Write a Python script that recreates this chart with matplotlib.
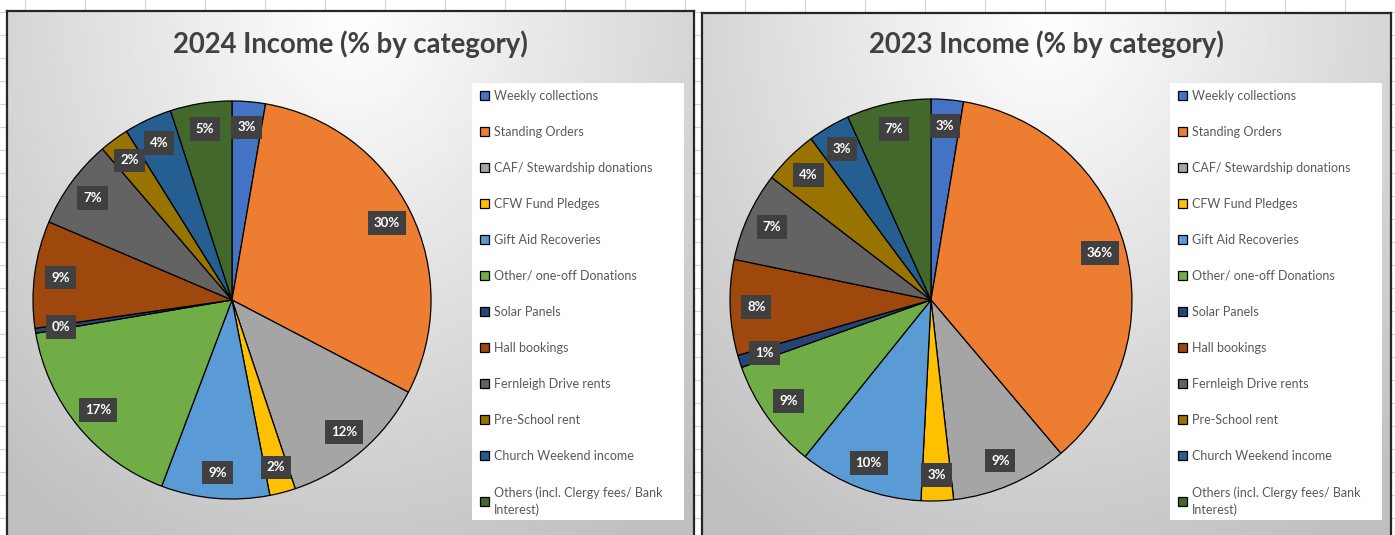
import numpy as np
import matplotlib as mpl; mpl.use('Agg')
import matplotlib.pyplot as plt
from matplotlib.patches import Rectangle

plt.rcParams.update({'font.family': ['Lato', 'DejaVu Sans']})

W, H = 1395, 535

categories = ['Weekly collections', 'Standing Orders', 'CAF/ Stewardship donations',
              'CFW Fund Pledges', 'Gift Aid Recoveries', 'Other/ one-off Donations',
              'Solar Panels', 'Hall bookings', 'Fernleigh Drive rents', 'Pre-School rent',
              'Church Weekend income', 'Others (incl. Clergy fees/ Bank\nInterest)']
colors = ['#4472C4', '#ED7D31', '#A5A5A5', '#FFC000', '#5B9BD5', '#70AD47',
          '#264478', '#9E480E', '#636363', '#997300', '#255E91', '#43682B']
# % share of income
share_2024 = [2.7, 30.0, 12.2, 2.1, 8.8, 16.6, 0.4, 8.7, 7.3, 2.4, 3.9, 5.0]
share_2023 = [2.6, 36.3, 9.4, 2.6, 10.0, 8.8, 1.0, 7.7, 7.2, 4.4, 3.4, 6.8]
titles = ['2024 Income (% by category)', '2023 Income (% by category)']

fig = plt.figure(figsize=(W/100, H/100), dpi=100)

# spreadsheet grid behind the chart objects
bg = fig.add_axes([0, 0, 1, 1], zorder=-5)
bg.set_xlim(0, W); bg.set_ylim(H, 0); bg.axis('off')
for x in range(25, W, 60):
    bg.axvline(x, color='#d4d4d4', lw=0.8)
for y in range(12, H, 23):
    bg.axhline(y, color='#d4d4d4', lw=0.8)

# gradient fill for chart areas
gx, gy = np.meshgrid(np.linspace(-1, 1, 300), np.linspace(0, 1, 200))
grad = 1 - 0.25*np.clip(np.sqrt((gx*0.85)**2 + (gy*1.1)**2)/1.3, 0, 1)

panels = [(7, 694, 11), (702, 1391, 13)]
pies = [(232, 300, 203), (931, 300, 205)]
legend_boxes = [(472, 83, 684, 520), (1170, 83, 1382, 520)]

for i, data in enumerate([share_2024, share_2023]):
    x0, x1, top = panels[i]
    pa = fig.add_axes([x0/W, 0, (x1-x0)/W, (H-top)/H], zorder=0)
    pa.imshow(grad, cmap='gray', vmin=0, vmax=1, extent=[0, 1, 0, 1], aspect='auto', origin='upper')
    pa.set_xticks([]); pa.set_yticks([])
    for s in ['top', 'left', 'right']:
        pa.spines[s].set_linewidth(1.6); pa.spines[s].set_color('#262626')
    pa.spines['bottom'].set_visible(False)
    pa.text(0.5, 1 - (44-top)/(H-top), titles[i], transform=pa.transAxes, ha='center', va='center',
            fontsize=19.8, fontweight='bold', color='#404040')

    # legend background
    lx0, ly0, lx1, ly1 = legend_boxes[i]
    fig.patches.append(Rectangle((lx0/W, 1-ly1/H), (lx1-lx0)/W, (ly1-ly0)/H, transform=fig.transFigure,
                                 facecolor='white', edgecolor='none', zorder=1))

    cx, cy, r = pies[i]
    ax = fig.add_axes([(cx-r)/W, (H-cy-r)/H, 2*r/W, 2*r/H], zorder=2)
    wedges, _, autotexts = ax.pie(data, colors=colors, startangle=90, counterclock=False, radius=1,
                                  autopct='%.0f%%', pctdistance=0.87,
                                  wedgeprops=dict(edgecolor='black', linewidth=0.9),
                                  textprops=dict(color='white', fontsize=9.5, fontweight='bold'))
    for t in autotexts:
        t.set_bbox(dict(boxstyle='square,pad=0.45', facecolor='#404040', edgecolor='none'))
    ax.set_xlim(-1.02, 1.02); ax.set_ylim(-1.02, 1.02)
    ax.axis('off')

    leg = fig.legend(wedges, categories, loc='upper left',
                     bbox_to_anchor=((lx0+3)/W, 1-(ly0+2)/H), frameon=False,
                     fontsize=9, labelcolor='#595959', handlelength=0.75, handleheight=0.75,
                     handletextpad=0.35, labelspacing=1.92, borderaxespad=0)
    for t in leg.get_texts():
        t.set_linespacing(1.5)
    leg.set_zorder(3)

fig.savefig('out.png', dpi=100)
